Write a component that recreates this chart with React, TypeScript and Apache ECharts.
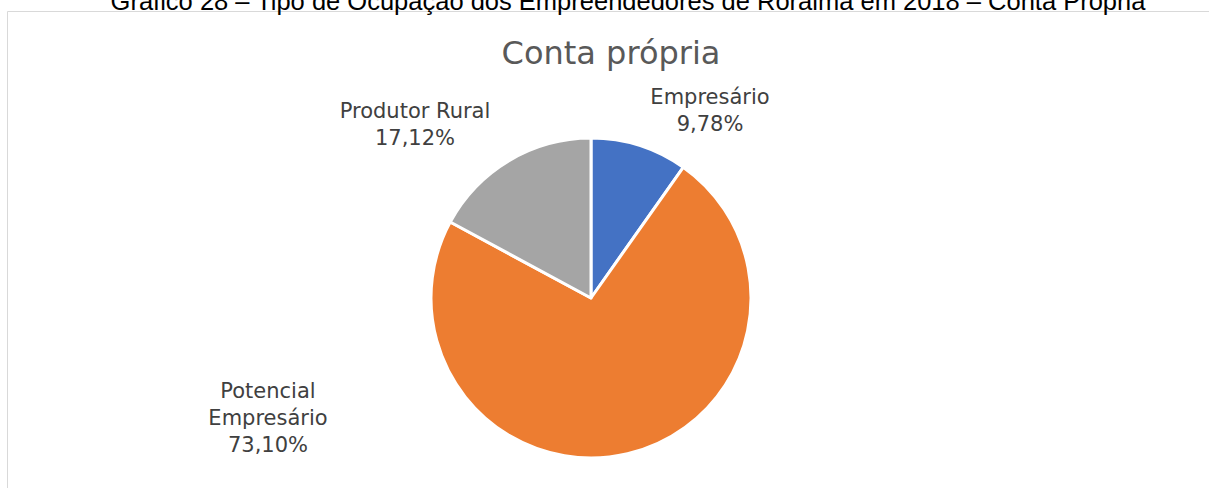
import React, { useEffect, useRef } from "react";
import * as echarts from "echarts";

const categories = ["Empresário", "Potencial Empresário", "Produtor Rural"];
const labelNames = ["Empresário", "Potencial\nEmpresário", "Produtor Rural"];
const values = [9.78, 73.1, 17.12];
const colors = ["#4472C4", "#ED7D31", "#A5A5A5"];
const pageTitle = "Gráfico 28 – Tipo de Ocupação dos Empreendedores de Roraima em 2018 – Conta Própria";
const chartTitle = "Conta própria";

const labelPos: [number, number][] = [
  [710, 110],
  [268, 418],
  [415, 124],
];

export default function App() {
  const ref = useRef<HTMLDivElement>(null);
  useEffect(() => {
    document.body.style.margin = "0";
    const chart = echarts.init(ref.current!, undefined, { renderer: "svg" });
    chart.setOption({
      animation: false,
      backgroundColor: "#ffffff",
      graphic: [
        {
          type: "rect",
          shape: { x: 7.5, y: 11.5, width: 1220, height: 520 },
          style: { fill: "none", stroke: "#d9d9d9", lineWidth: 1 },
          z: 0,
        },
        {
          type: "text",
          x: 628,
          y: 14,
          style: {
            text: pageTitle,
            font: '25.5px "Liberation Sans", Arial, sans-serif',
            fill: "#000000",
            textAlign: "center",
            textVerticalAlign: "bottom",
          },
          z: 10,
        },
        {
          type: "text",
          x: 611,
          y: 53,
          style: {
            text: chartTitle,
            font: '32px "DejaVu Sans", sans-serif',
            fill: "#595959",
            textAlign: "center",
            textVerticalAlign: "middle",
          },
        },
      ],
      series: [
        {
          type: "pie",
          center: [591, 298],
          radius: 160,
          startAngle: 90,
          clockwise: true,
          silent: true,
          itemStyle: { borderColor: "#ffffff", borderWidth: 3 },
          label: {
            show: true,
            position: "outside",
            fontFamily: '"DejaVu Sans", sans-serif',
            fontSize: 21,
            lineHeight: 27,
            color: "#404040",
            align: "center",
            formatter: (p: any) =>
              labelNames[p.dataIndex] + "\n" + p.value.toFixed(2).replace(".", ",") + "%",
          },
          labelLine: { show: false },
          labelLayout: (p: any) => ({
            x: labelPos[p.dataIndex][0],
            y: labelPos[p.dataIndex][1],
            align: "center",
            verticalAlign: "middle",
          }),
          data: categories.map((c, i) => ({
            name: c,
            value: values[i],
            itemStyle: { color: colors[i] },
          })),
        },
      ],
    });
    return () => chart.dispose();
  }, []);
  return (
    <div
      ref={ref}
      style={{ position: "absolute", left: 0, top: 0, width: 1209, height: 488 }}
    />
  );
}
